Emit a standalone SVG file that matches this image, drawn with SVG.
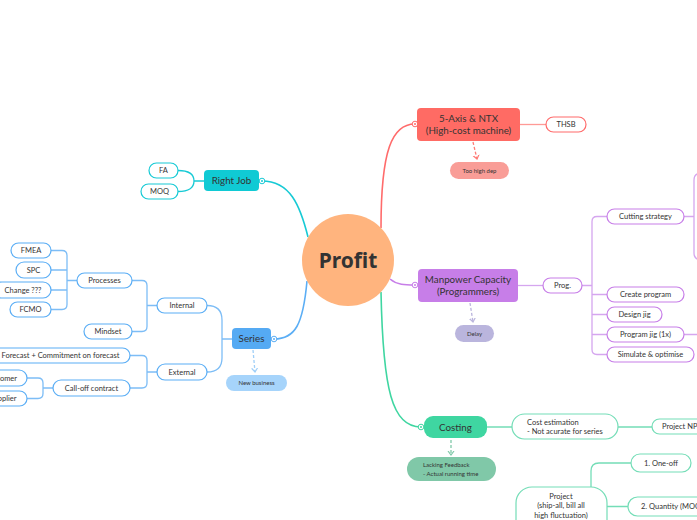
<svg xmlns="http://www.w3.org/2000/svg" width="697" height="520" viewBox="0 0 697 520">
<defs>
<style>
text{font-family:"Lato","Noto Sans",sans-serif;fill:#333;text-anchor:middle}
.s{font-size:7.5px}
.m{font-size:9.8px}
.d{font-size:6px}
.l{text-anchor:start}
.e{text-anchor:end}
.sub{fill:#fff;stroke-width:1.2}
.ln{fill:none;stroke-width:1.3}
.main{fill:none;stroke-width:1.6}
.dash{fill:none;stroke-width:1.3;stroke-dasharray:3 2}
.red{stroke:#FF6B6B}.redl{stroke:#FF9A96}
.cy{stroke:#17CAD5}
.bl{stroke:#5BAEF5}.bll{stroke:#7DBDF6}
.pu{stroke:#C77EE8}.pul{stroke:#D5A6EF}
.gr{stroke:#3FD6A1}.grl{stroke:#74DDB7}
</style>
<marker id="arR" markerWidth="8" markerHeight="8" refX="4" refY="4" orient="auto" markerUnits="userSpaceOnUse"><path d="M0,1 L4,4 L0,7" fill="none" stroke="#FF7B76" stroke-width="1.2"/></marker>
<marker id="arB" markerWidth="8" markerHeight="8" refX="4" refY="4" orient="auto" markerUnits="userSpaceOnUse"><path d="M0,1 L4,4 L0,7" fill="none" stroke="#9FCFF8" stroke-width="1.2"/></marker>
<marker id="arP" markerWidth="8" markerHeight="8" refX="4" refY="4" orient="auto" markerUnits="userSpaceOnUse"><path d="M0,1 L4,4 L0,7" fill="none" stroke="#BAB5DD" stroke-width="1.2"/></marker>
<marker id="arG" markerWidth="8" markerHeight="8" refX="4" refY="4" orient="auto" markerUnits="userSpaceOnUse"><path d="M0,1 L4,4 L0,7" fill="none" stroke="#80C9A9" stroke-width="1.2"/></marker>
</defs>
<rect width="697" height="520" fill="#fff"/>
<g id="connectors">
<path class="main red" d="M381,228 C381,150 392,124 415,124"/>
<path class="main cy" d="M262,181 C290,181 300,205 308,237"/>
<path class="main bl" d="M307,281 C303,325 295,339 274,339"/>
<path class="main pu" d="M390,279 C397,285 405,285 415,285"/>
<path class="main gr" d="M381,292 C383,390 392,427 421,427"/>
<circle cx="415" cy="124" r="2.8" fill="#fff" stroke="#FF6B6B"/><circle cx="415" cy="124" r="1" fill="#FF6B6B"/>
<circle cx="262" cy="181" r="2.8" fill="#fff" stroke="#17CAD5"/><circle cx="262" cy="181" r="1" fill="#17CAD5"/>
<circle cx="274" cy="339" r="2.8" fill="#fff" stroke="#5BAEF5"/><circle cx="274" cy="339" r="1" fill="#5BAEF5"/>
<circle cx="415" cy="285" r="2.8" fill="#fff" stroke="#C77EE8"/><circle cx="415" cy="285" r="1" fill="#C77EE8"/>
<circle cx="421" cy="427" r="2.8" fill="#fff" stroke="#3FD6A1"/><circle cx="421" cy="427" r="1" fill="#3FD6A1"/>
<path class="ln redl" d="M520,124.5 H546"/>
<path class="dash" stroke="#FF7B76" d="M473,142 L477,159" marker-end="url(#arR)"/>
<path class="ln cy" d="M178,170.5 Q194,170.5 194,181 Q194,191.5 178,191.5 M194,181 H204"/>
<path class="dash" stroke="#9FCFF8" d="M253,350 L255,372" marker-end="url(#arB)"/>
<path class="ln bll" d="M207,305.5 Q222,305.5 222,320 V358 Q222,372 207,372 M222,339 H232"/>
<path class="ln bll" d="M132,280.5 H142 Q147,280.5 147,285.5 V326.5 Q147,331.5 142,331.5 H132 M147,305.5 H157"/>
<path class="ln bll" d="M51,250.5 H62 Q67,250.5 67,255.5 V304.5 Q67,309.5 62,309.5 H51 M51,270 H67 M51,290 H67 M67,280.5 H77"/>
<path class="ln bll" d="M130,355.5 H142 Q147,355.5 147,360.5 V383 Q147,388 142,388 H130 M147,372 H157"/>
<path class="ln bll" d="M27,378 H38 Q43,378 43,383 V393.5 Q43,398.5 38,398.5 H27 M43,388 H53"/>
<path class="ln pul" d="M518,285.5 H543"/>
<path class="dash" stroke="#BAB5DD" d="M470,303 L473,322" marker-end="url(#arP)"/>
<path class="ln pul" d="M582,285.5 H592 M607,216.5 H597 Q592,216.5 592,221.5 V349.5 Q592,354.5 597,354.5 H607 M592,294.5 H607 M592,314.5 H607 M592,334.5 H607"/>
<path class="ln pul" d="M684,216.5 H694 M702,173 Q694,173 694,180 V253 Q694,260 702,260 M684,334.5 H700"/>
<path class="ln grl" d="M487,427 H512 M618,427 H652"/>
<path class="dash" stroke="#80C9A9" d="M451,440 L451,455" marker-end="url(#arG)"/>
<path class="ln grl" d="M591,487 V471 Q591,463 599,463 H631 M607,506.5 H628"/>
</g>
<g id="profit"><circle cx="348" cy="260" r="46" fill="#FFB47E"/><text x="348" y="268" style="font-family:'Noto Sans',sans-serif;font-weight:bold;font-size:21px" fill="#333">Profit</text></g>
<g id="n5axis"><rect x="417" y="108" width="103" height="33" rx="4" fill="#FF6B64"/><text class="m" x="468.5" y="121.5">5-Axis &amp; NTX</text><text class="m" x="468.5" y="134">(High-cost machine)</text></g>
<g id="thsb"><rect class="sub red" x="546" y="117" width="40" height="15" rx="7.5"/><text class="s" x="566" y="127.3">THSB</text></g>
<g id="toohigh"><rect x="450" y="162" width="59" height="17" rx="8.5" fill="#F99D97"/><text class="d" x="479.5" y="172.8">Too high dep</text></g>
<g id="rightjob"><rect x="204" y="170" width="55" height="21" rx="4" fill="#10CAD4"/><text class="m" x="231.5" y="184">Right Job</text></g>
<g id="fa"><rect class="sub cy" x="149" y="163" width="29" height="15" rx="7.5"/><text class="s" x="163.5" y="173.3">FA</text></g>
<g id="moq"><rect class="sub cy" x="141" y="184" width="37" height="15" rx="7.5"/><text class="s" x="159.5" y="194.3">MOQ</text></g>
<g id="series"><rect x="232" y="328" width="39" height="21" rx="4" fill="#55AAF3"/><text class="m" x="251.5" y="342">Series</text></g>
<g id="newbiz"><rect x="226" y="375" width="61" height="16" rx="8" fill="#A6D4FB"/><text class="d" x="256.5" y="385.3">New business</text></g>
<g id="internal"><rect class="sub bl" x="157" y="298" width="50" height="15" rx="7.5"/><text class="s" x="182" y="308.3">Internal</text></g>
<g id="external"><rect class="sub bl" x="157" y="364" width="50" height="16" rx="8"/><text class="s" x="182" y="374.8">External</text></g>
<g id="processes"><rect class="sub bl" x="77" y="273" width="55" height="15" rx="7.5"/><text class="s" x="104.5" y="283.3">Processes</text></g>
<g id="mindset"><rect class="sub bl" x="84" y="324" width="48" height="15" rx="7.5"/><text class="s" x="108" y="334.3">Mindset</text></g>
<g id="fmea"><rect class="sub bl" x="11" y="243" width="40" height="15" rx="7.5"/><text class="s" x="31" y="253.3">FMEA</text></g>
<g id="spc"><rect class="sub bl" x="16" y="262" width="35" height="16" rx="8"/><text class="s" x="33.5" y="272.8">SPC</text></g>
<g id="change"><rect class="sub bl" x="-6" y="282" width="57" height="16" rx="8"/><text class="s" x="23" y="292.8">Change ???</text></g>
<g id="fcmo"><rect class="sub bl" x="10" y="302" width="41" height="15" rx="7.5"/><text class="s" x="30.5" y="312.3">FCMO</text></g>
<g id="forecast"><rect class="sub bl" x="-10" y="348" width="140" height="15" rx="7.5"/><text class="s" x="60.5" y="358.3">Forecast + Commitment on forecast</text></g>
<g id="calloff"><rect class="sub bl" x="53" y="380" width="77" height="16" rx="8"/><text class="s" x="91.5" y="390.8">Call-off contract</text></g>
<g id="customer"><rect class="sub bl" x="-40" y="370" width="67" height="16" rx="8"/><text class="s e" x="17" y="380.8">Customer</text></g>
<g id="supplier"><rect class="sub bl" x="-40" y="391" width="67" height="15" rx="7.5"/><text class="s e" x="16.5" y="401.3">Supplier</text></g>
<g id="manpower"><rect x="418" y="269" width="100" height="33" rx="4" fill="#C77EE8"/><text class="m" x="468" y="282.5">Manpower Capacity</text><text class="m" x="468" y="295">(Programmers)</text></g>
<g id="prog"><rect class="sub pu" x="543" y="278" width="39" height="15" rx="7.5"/><text class="s" x="562.5" y="288.3">Prog.</text></g>
<g id="delay"><rect x="455" y="325" width="39" height="17" rx="8.5" fill="#BAB5DD"/><text class="d" x="474.5" y="335.8">Delay</text></g>
<g id="cutting"><rect class="sub pu" x="607" y="209" width="77" height="15" rx="7.5"/><text class="s" x="645.5" y="219.3">Cutting strategy</text></g>
<g id="create"><rect class="sub pu" x="607" y="287" width="77" height="15" rx="7.5"/><text class="s" x="645.5" y="297.3">Create program</text></g>
<g id="designjig"><rect class="sub pu" x="607" y="307" width="55" height="15" rx="7.5"/><text class="s" x="634.5" y="317.3">Design jig</text></g>
<g id="progjig"><rect class="sub pu" x="607" y="327" width="77" height="15" rx="7.5"/><text class="s" x="645.5" y="337.3">Program jig (1x)</text></g>
<g id="simulate"><rect class="sub pu" x="607" y="347" width="87" height="15" rx="7.5"/><text class="s" x="650.5" y="357.3">Simulate &amp; optimise</text></g>
<g id="costing"><rect x="424" y="416" width="63" height="22" rx="9" fill="#3FD6A1"/><text class="m" x="455.5" y="430.5">Costing</text></g>
<g id="costest"><rect class="sub grl" x="512" y="414" width="106" height="25" rx="12.5"/><text class="s l" x="527" y="424.5">Cost estimation</text><text class="s l" x="527" y="434">- Not acurate for series</text></g>
<g id="projectnpi"><rect class="sub grl" x="652" y="419" width="60" height="15" rx="7.5"/><text class="s l" x="662" y="429.3">Project NPI</text></g>
<g id="lacking"><rect x="407" y="457" width="89" height="24" rx="12" fill="#80C8A8"/><text class="d l" x="423" y="467">Lacking Feedback</text><text class="d l" x="423" y="475.5">- Actual running time</text></g>
<g id="project"><rect class="sub grl" x="516" y="487" width="91" height="50" rx="16"/><text class="s" x="561" y="498.5">Project</text><text class="s" x="561" y="508">(ship-all, bill all</text><text class="s" x="561" y="517.5">high fluctuation)</text></g>
<g id="oneoff"><rect class="sub grl" x="631" y="454" width="60" height="18" rx="9"/><text class="s" x="661" y="465.8">1. One-off</text></g>
<g id="quantity"><rect class="sub grl" x="628" y="497" width="80" height="19" rx="9.5"/><text class="s l" x="641" y="509.3">2. Quantity (MOQ)</text></g>
</svg>
